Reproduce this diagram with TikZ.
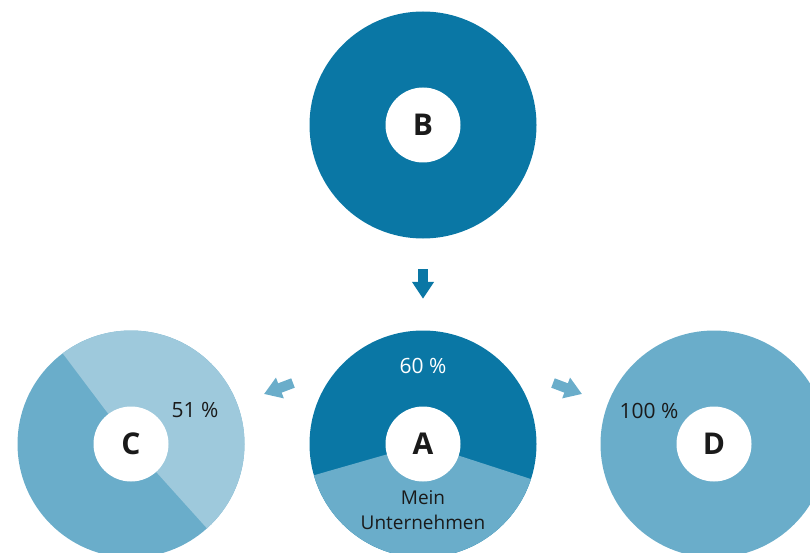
\documentclass[tikz,border=0pt]{standalone}
\usepackage{fontspec}
\setmainfont{Open Sans}
\usetikzlibrary{arrows.meta, positioning, calc}
\definecolor{darkblue}{HTML}{0A77A5}
\definecolor{midblue}{HTML}{6AADCA}
\definecolor{lightblue}{HTML}{9EC9DC}
\definecolor{inktext}{HTML}{1A1A1A}

\begin{document}
\begin{tikzpicture}[
    x=1pt, y=1pt,
    ring/.style={circle, minimum size=227pt, inner sep=0pt},
    hole/.style={circle, fill=white, minimum size=75pt, inner sep=0pt,
                 font=\fontsize{30}{32}\selectfont\bfseries, text=inktext},
    share/.style={font=\fontsize{21}{25}\selectfont, text=inktext, align=center},
    owner/.style={font=\fontsize{19}{25}\selectfont, text=inktext, align=center},
    blockarr/.style={line width=10pt, -{Triangle[length=17pt, width=21pt]}}
]
\useasboundingbox (0,0) rectangle (810,-553);

\node[ring, fill=darkblue] (ringB) at (423,-125) {};
\node[ring, fill=darkblue] (ringA) at (423,-444) {};
\node[ring, fill=midblue]  (ringC) at (131,-444) {};
\node[ring, fill=midblue]  (ringD) at (714,-444) {};

\fill[midblue]   (ringA.center) -- ++(196:113.5pt) arc[start angle=196, end angle=342, radius=113.5pt] -- cycle;
\fill[lightblue] (ringC.center) -- ++(-48:113.5pt) arc[start angle=-48, end angle=127, radius=113.5pt] -- cycle;

\node[hole] (B) at (ringB) {B};
\node[hole] (A) at (ringA) {A};
\node[hole] (C) at (ringC) {C};
\node[hole] (D) at (ringD) {D};

\node[share, text=white] (pctA) at ($(ringA)+(0,78)$)  {60 \%};
\node[owner]             (mine) at ($(ringA)+(0,-66)$) {Mein\\Unternehmen};
\node[share]             (pctC) at ($(ringC)+(64,34)$) {51 \%};
\node[share]             (pctD) at ($(ringD)+(-65,33)$) {100 \%};

\path (ringA.center) ++(-130,61) coordinate (toC-s) ++(-29,-11) coordinate (toC-e);
\path (ringA.center) ++(130,61)  coordinate (toD-s) ++(29,-11)  coordinate (toD-e);

\draw[blockarr, darkblue, shorten <=30.5pt, shorten >=31.5pt] (ringB) -- (ringA);
\draw[blockarr, midblue] (toC-s) -- (toC-e);
\draw[blockarr, midblue] (toD-s) -- (toD-e);
\end{tikzpicture}
\end{document}
